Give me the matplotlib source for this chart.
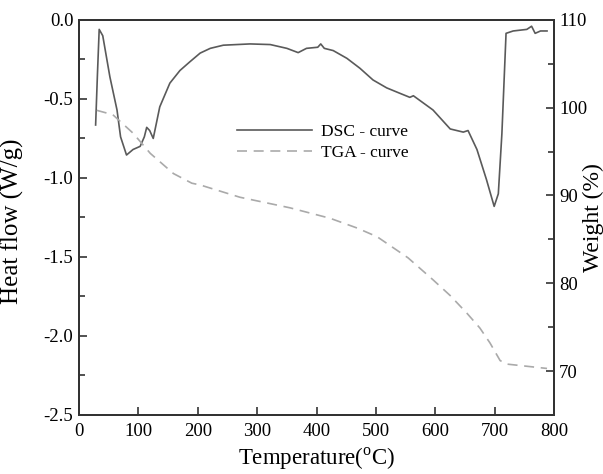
import matplotlib
matplotlib.use("Agg")
import matplotlib.pyplot as plt

plt.rcParams['font.family'] = ['Liberation Serif', 'DejaVu Serif']
plt.rcParams['mathtext.fontset'] = 'custom'
plt.rcParams['mathtext.rm'] = 'Liberation Serif'
plt.rcParams['axes.unicode_minus'] = False

# DSC curve (heat flow, W/g)
dsc_t = [28, 31, 34, 40, 52, 64, 70, 80, 91, 103, 110, 114, 119, 125, 136, 153,
         170, 187, 204, 221, 243, 288, 322, 350, 369, 383, 402, 407, 413, 428,
         451, 473, 495, 518, 540, 557, 563, 596, 625, 647, 655, 670, 686, 699,
         706, 712, 719, 731, 754, 762, 768, 777, 788]
dsc_h = [-0.665, -0.35, -0.06, -0.1, -0.36, -0.57, -0.74, -0.855, -0.82, -0.80,
         -0.74, -0.68, -0.70, -0.75, -0.55, -0.40, -0.32, -0.264, -0.21, -0.18,
         -0.16, -0.152, -0.156, -0.18, -0.207, -0.18, -0.173, -0.152, -0.18,
         -0.194, -0.243, -0.306, -0.38, -0.43, -0.464, -0.49, -0.48, -0.57,
         -0.69, -0.71, -0.70, -0.82, -1.01, -1.18, -1.10, -0.72, -0.085, -0.07,
         -0.06, -0.04, -0.085, -0.07, -0.07]

# TGA curve (weight, %)
tga_t = [30, 57, 91, 120, 159, 190, 204, 271, 355, 423, 468, 502, 554, 596,
         625, 653, 675, 692, 709, 720, 788]
tga_w = [99.7, 99.2, 97.1, 94.8, 92.5, 91.4, 91.2, 89.8, 88.6, 87.4, 86.3,
         85.3, 82.9, 80.4, 78.6, 76.6, 74.9, 73.2, 71.2, 70.8, 70.3]

fig = plt.figure(figsize=(6.03, 4.74), dpi=100)
ax = fig.add_axes([0.131, 0.1245, 0.788, 0.8335])
ax2 = ax.twinx()

l1, = ax.plot(dsc_t, dsc_h, color='#5a5a5a', lw=1.2, label='DSC - curve')
l2, = ax2.plot(tga_t, tga_w, color='#aaaaaa', lw=1.2, ls=(0, (6, 4)),
               label='TGA - curve')

ax.set_xlim(0, 800)
ax.set_ylim(-2.5, 0.0)
ax2.set_ylim(65, 110)
ax.set_xticks(range(0, 801, 100))
ax.set_yticks([-2.5, -2.0, -1.5, -1.0, -0.5, 0.0])
ax.set_yticks([-2.25, -1.75, -1.25, -0.75, -0.25], minor=True)
ax2.set_yticks([70, 80, 90, 100, 110])
ax2.set_yticks([75, 85, 95, 105], minor=True)
ax.yaxis.set_major_formatter(matplotlib.ticker.FormatStrFormatter('%.1f'))

for a in (ax, ax2):
    for s in a.spines.values():
        s.set_color('#333333')
        s.set_linewidth(1.4)
    a.tick_params(which='both', direction='in', labelsize=13.5, color='#333333',
                  width=1.2)
    a.tick_params(which='major', length=6)
    a.tick_params(which='minor', length=4)
ax.tick_params(axis='x', pad=6)
ax.tick_params(axis='y', pad=4)

ax.set_xlabel('Temperature($^{\\mathrm{o}}$C)', fontsize=16.5)
ax.set_ylabel('Heat flow (W/g)', fontsize=18)
ax2.set_ylabel('Weight (%)', fontsize=17)
ax.xaxis.set_label_coords(0.5, -0.078)
ax.yaxis.set_label_coords(-0.115, 0.49)
ax2.yaxis.set_label_coords(1.061, 0.5)

ax.legend([l1, l2], ['DSC - curve', 'TGA - curve'], loc='center left',
          bbox_to_anchor=(0.3, 0.69), frameon=False, fontsize=12.5,
          handlelength=4.3, handletextpad=0.55, labelspacing=0.3)

fig.savefig('out.png', dpi=100)
